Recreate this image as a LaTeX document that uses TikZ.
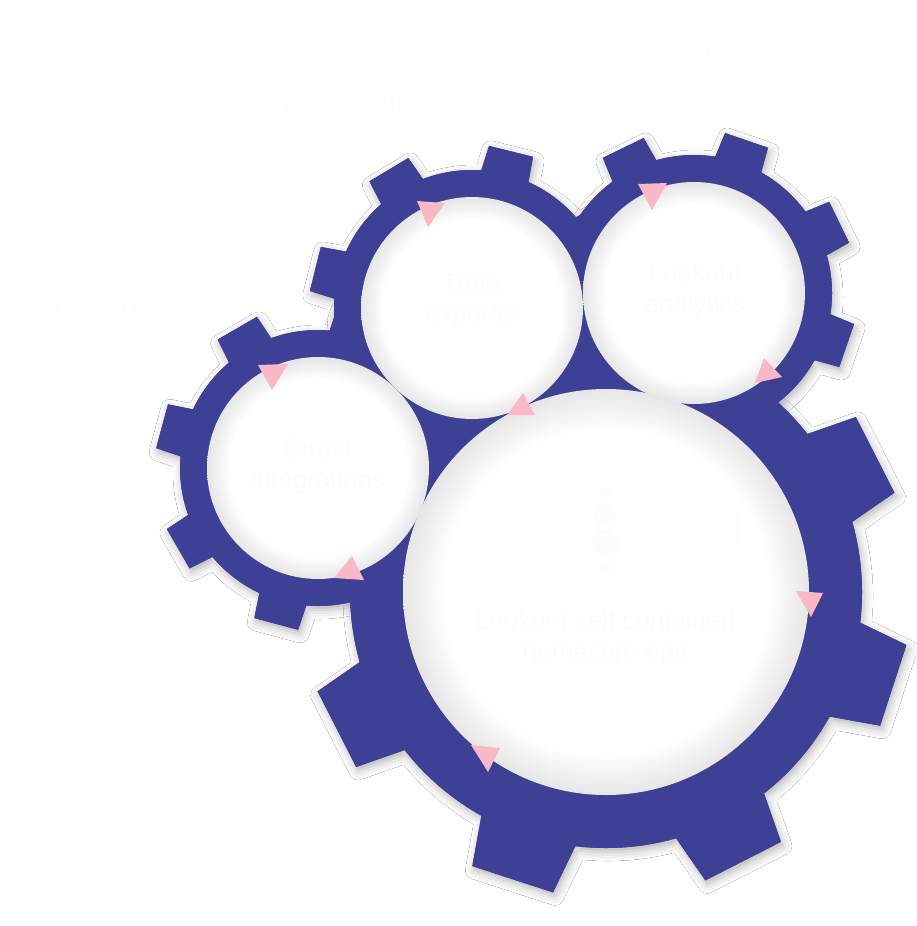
\documentclass[tikz,border=0pt]{standalone}
\usepackage{fontspec}
\setmainfont{Liberation Sans}
\usetikzlibrary{shadows.blur}
\definecolor{gearblue}{RGB}{61,64,148}
\definecolor{pinkhead}{RGB}{248,184,200}
\definecolor{faintout}{RGB}{254,254,254}
\definecolor{faintin}{RGB}{252,252,252}
\definecolor{fainticon}{RGB}{252,252,252}
\pgfdeclareradialshading{innershade}{\pgfpoint{0bp}{0bp}}{color(0bp)=(white); color(20bp)=(white); color(25bp)=(black!10); color(50bp)=(black!10)}
\newcommand\gear[9]{%
  \begin{scope}[shift={(#2,#3)}]
  \path[#1] (0,0) circle (#5)
    \foreach \k in {0,...,7}{ (\k*45+#4-#8:#6) -- (\k*45+#4-#9:#7) -- (\k*45+#4+#9:#7) -- (\k*45+#4+#8:#6) -- cycle};
  \end{scope}}
\tikzset{
  gshadow/.style={fill=gearblue, blur shadow={shadow xshift=2pt, shadow yshift=-4pt, shadow opacity=30, shadow blur radius=9pt}},
  gfill/.style={fill=gearblue},
  outtext/.style={text=faintout, font=\fontsize{31}{37}\selectfont, inner sep=0pt},
  intext/.style={text=faintin, font=\fontsize{26}{31}\selectfont, inner sep=0pt, align=center},
  head/.style={fill=pinkhead}
}
\begin{document}
\begin{tikzpicture}[x=1pt,y=-1pt]
\useasboundingbox[fill=white] (0,0) rectangle (916,926);
% outside labels
\node[outtext] (metas) at (704,47) {Metas and KPIs};
\node[outtext] (live) at (335,105) {Live or PII};
\node[outtext, align=left, anchor=west] (home) at (5,323) {Homecare\\biz services};
% gears: shadow pass
\gear{gshadow}{318}{468}{15}{138}{130}{163}{11}{8}
\gear{gshadow}{606}{592}{18}{256}{245}{305}{12}{8}
\gear{gshadow}{472}{308}{14}{138}{130}{163}{11}{8}
\gear{gshadow}{694}{293}{19}{138}{130}{163}{11}{8}
% gears: clean fill pass
\gear{gfill}{318}{468}{15}{138}{130}{163}{11}{8}
\gear{gfill}{606}{592}{18}{256}{245}{305}{12}{8}
\gear{gfill}{472}{308}{14}{138}{130}{163}{11}{8}
\gear{gfill}{694}{293}{19}{138}{130}{163}{11}{8}
% inner white discs
\shade[shading=innershade] (318,468) circle (111);
\shade[shading=innershade] (606,592) circle (203);
\shade[shading=innershade] (472,308) circle (111);
\shade[shading=innershade] (694,293) circle (111);
% faint icon in big disc
\fill[fainticon] (605,493) circle (5) (605,514) circle (11) (605,543) circle (13) (605,568) circle (6);
\fill[fainticon] (736,512) rectangle (740,543);
% inner labels
\node[intext] (data) at (473,301) {Data\\exporter};
\node[intext] (look) at (695,290) {Lookout\\analytics};
\node[intext] (direct) at (318,466) {Direct\\integrations};
\node[intext] (self) at (605,638) {Lookout self contained\\homecare ops};
% pink arrowheads
\fill[head] (417,201) -- (445,203) -- (428,227) -- cycle;
\fill[head] (638,184) -- (667,183) -- (652,210) -- cycle;
\fill[head] (764,358) -- (782,377) -- (755,383) -- cycle;
\fill[head] (258,365) -- (288,364) -- (272,390) -- cycle;
\fill[head] (523,393) -- (535,415) -- (507,415) -- cycle;
\fill[head] (352,556) -- (364,580) -- (334,578) -- cycle;
\fill[head] (796,591) -- (823,593) -- (811,617) -- cycle;
\fill[head] (471,745) -- (500,748) -- (488,772) -- cycle;
\end{tikzpicture}
\end{document}
